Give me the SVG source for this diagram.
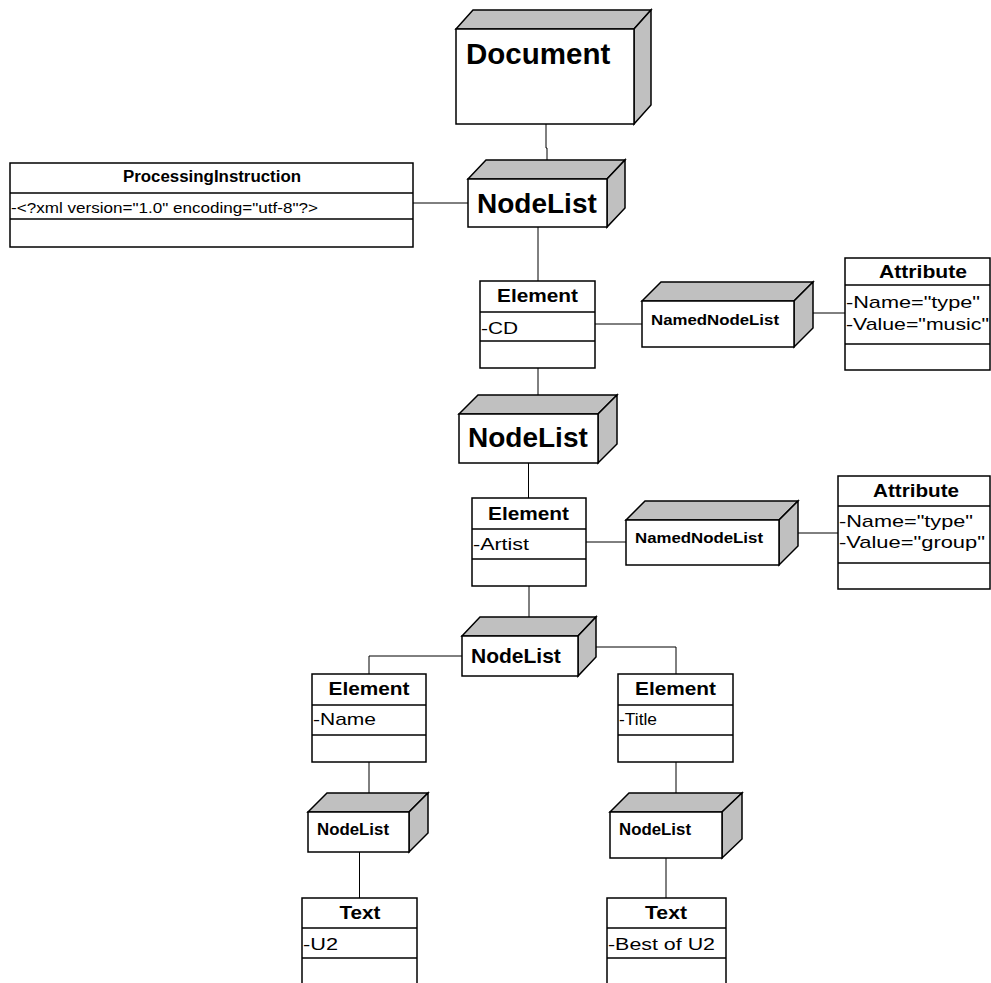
<svg xmlns="http://www.w3.org/2000/svg" width="991" height="983" viewBox="0 0 991 983">
<style>
.face{fill:#c0c0c0;stroke:#000;stroke-width:1.5;stroke-linejoin:miter}
.front{fill:#fff;stroke:#000;stroke-width:1.5}
.box{fill:#fff;stroke:#000;stroke-width:1.5}
.div{stroke:#000;stroke-width:1.5}
.conn{fill:none;stroke:#000;stroke-width:1}
.t{font-family:"Liberation Sans",Arial,sans-serif;fill:#000}
.b{font-weight:bold}
.ttl{font-family:"Liberation Sans",Arial,sans-serif;font-weight:bold;font-size:18.5px;text-anchor:middle}
.row{font-family:"Liberation Sans",Arial,sans-serif;font-size:17px}
</style>
<rect width="991" height="983" fill="#fff"/>
<g id="connectors">
<polyline class="conn" points="546,124 546,148 547,148 547,160"/>
<line class="conn" x1="413" y1="203" x2="468" y2="203"/>
<line class="conn" x1="538" y1="227" x2="538" y2="281"/>
<line class="conn" x1="595" y1="324" x2="642" y2="324"/>
<line class="conn" x1="803" y1="313" x2="845" y2="313"/>
<line class="conn" x1="538" y1="368" x2="538" y2="405"/>
<line class="conn" x1="528.5" y1="463" x2="528.5" y2="498"/>
<line class="conn" x1="586" y1="542" x2="626" y2="542"/>
<line class="conn" x1="788" y1="533" x2="838" y2="533"/>
<line class="conn" x1="529" y1="586" x2="529" y2="626"/>
<polyline class="conn" points="462,656 369,656 369,674"/>
<polyline class="conn" points="586,647 676,647 676,674"/>
<line class="conn" x1="369" y1="762" x2="369" y2="803"/>
<line class="conn" x1="676" y1="762" x2="676" y2="803"/>
<line class="conn" x1="359.5" y1="852" x2="359.5" y2="898"/>
<line class="conn" x1="666" y1="858" x2="666" y2="898"/>
</g>
<g id="document">
<path class="face" d="M456,29 L473,10 L651,10 L634,29 Z"/>
<path class="face" d="M634,29 L651,10 L651,105 L634,124 Z"/>
<rect class="front" x="456" y="29" width="178" height="95"/>
<text class="t b" x="466" y="64" font-size="29.5">Document</text>
</g>
<g id="processing-instruction">
<rect class="box" x="10" y="163" width="403" height="84"/>
<line class="div" x1="10" y1="193" x2="413" y2="193"/>
<line class="div" x1="10" y1="219" x2="413" y2="219"/>
<text class="t b" x="212" y="182" font-size="16" text-anchor="middle" textLength="178" lengthAdjust="spacingAndGlyphs">ProcessingInstruction</text>
<text class="t" x="11" y="213" font-size="15" textLength="307" lengthAdjust="spacingAndGlyphs">-&lt;?xml version="1.0" encoding="utf-8"?&gt;</text>
</g>
<g id="nodelist-1">
<path class="face" d="M468,179 L486,160 L625,160 L607,179 Z"/>
<path class="face" d="M607,179 L625,160 L625,208 L607,227 Z"/>
<rect class="front" x="468" y="179" width="139" height="48"/>
<text class="t b" x="477" y="213" font-size="28">NodeList</text>
</g>
<g id="element-cd">
<rect class="box" x="480" y="281" width="115" height="87"/>
<line class="div" x1="480" y1="312" x2="595" y2="312"/>
<line class="div" x1="480" y1="341" x2="595" y2="341"/>
<text class="ttl" x="537.5" y="302" textLength="81" lengthAdjust="spacingAndGlyphs">Element</text>
<text class="row" x="481" y="334" textLength="37" lengthAdjust="spacingAndGlyphs">-CD</text>
</g>
<g id="namednodelist-1">
<path class="face" d="M642,301 L661,282 L813,282 L794,301 Z"/>
<path class="face" d="M794,301 L813,282 L813,328 L794,347 Z"/>
<rect class="front" x="642" y="301" width="152" height="46"/>
<text class="t b" x="651" y="325" font-size="15.5" textLength="128" lengthAdjust="spacingAndGlyphs">NamedNodeList</text>
</g>
<g id="attribute-1">
<rect class="box" x="845" y="258" width="145" height="112"/>
<line class="div" x1="845" y1="285" x2="990" y2="285"/>
<line class="div" x1="845" y1="344" x2="990" y2="344"/>
<text class="ttl" x="923" y="278" textLength="88" lengthAdjust="spacingAndGlyphs">Attribute</text>
<text class="row" x="846" y="308" textLength="134" lengthAdjust="spacingAndGlyphs">-Name="type"</text>
<text class="row" x="846" y="330" textLength="143" lengthAdjust="spacingAndGlyphs">-Value="music"</text>
</g>
<g id="nodelist-2">
<path class="face" d="M459,414 L478,395 L617,395 L598,414 Z"/>
<path class="face" d="M598,414 L617,395 L617,444 L598,463 Z"/>
<rect class="front" x="459" y="414" width="139" height="49"/>
<text class="t b" x="468" y="447" font-size="28">NodeList</text>
</g>
<g id="element-artist">
<rect class="box" x="472" y="498" width="114" height="88"/>
<line class="div" x1="472" y1="529" x2="586" y2="529"/>
<line class="div" x1="472" y1="559" x2="586" y2="559"/>
<text class="ttl" x="528.5" y="520" textLength="81" lengthAdjust="spacingAndGlyphs">Element</text>
<text class="row" x="473" y="550" textLength="56" lengthAdjust="spacingAndGlyphs">-Artist</text>
</g>
<g id="namednodelist-2">
<path class="face" d="M626,520 L645,501 L798,501 L779,520 Z"/>
<path class="face" d="M779,520 L798,501 L798,546 L779,565 Z"/>
<rect class="front" x="626" y="520" width="153" height="45"/>
<text class="t b" x="635" y="543" font-size="15.5" textLength="128" lengthAdjust="spacingAndGlyphs">NamedNodeList</text>
</g>
<g id="attribute-2">
<rect class="box" x="838" y="476" width="152" height="113"/>
<line class="div" x1="838" y1="506" x2="990" y2="506"/>
<line class="div" x1="838" y1="563" x2="990" y2="563"/>
<text class="ttl" x="916" y="497" textLength="86" lengthAdjust="spacingAndGlyphs">Attribute</text>
<text class="row" x="839" y="527" textLength="134" lengthAdjust="spacingAndGlyphs">-Name="type"</text>
<text class="row" x="839" y="548" textLength="146" lengthAdjust="spacingAndGlyphs">-Value="group"</text>
</g>
<g id="nodelist-3">
<path class="face" d="M462,636 L480,617 L596,617 L578,636 Z"/>
<path class="face" d="M578,636 L596,617 L596,657 L578,676 Z"/>
<rect class="front" x="462" y="636" width="116" height="40"/>
<text class="t b" x="471" y="663" font-size="21">NodeList</text>
</g>
<g id="element-name">
<rect class="box" x="312" y="674" width="114" height="88"/>
<line class="div" x1="312" y1="705" x2="426" y2="705"/>
<line class="div" x1="312" y1="735" x2="426" y2="735"/>
<text class="ttl" x="369" y="695" textLength="81" lengthAdjust="spacingAndGlyphs">Element</text>
<text class="row" x="313" y="725" textLength="63" lengthAdjust="spacingAndGlyphs">-Name</text>
</g>
<g id="element-title">
<rect class="box" x="618" y="674" width="115" height="88"/>
<line class="div" x1="618" y1="705" x2="733" y2="705"/>
<line class="div" x1="618" y1="735" x2="733" y2="735"/>
<text class="ttl" x="675.5" y="695" textLength="81" lengthAdjust="spacingAndGlyphs">Element</text>
<text class="row" x="619" y="725" textLength="38" lengthAdjust="spacingAndGlyphs">-Title</text>
</g>
<g id="nodelist-4">
<path class="face" d="M308,812 L327,793 L428,793 L409,812 Z"/>
<path class="face" d="M409,812 L428,793 L428,833 L409,852 Z"/>
<rect class="front" x="308" y="812" width="101" height="40"/>
<text class="t b" x="317" y="835" font-size="16.5" textLength="72" lengthAdjust="spacingAndGlyphs">NodeList</text>
</g>
<g id="nodelist-5">
<path class="face" d="M610,812 L629,793 L742,793 L722,812 Z"/>
<path class="face" d="M722,812 L742,793 L742,839 L722,858 Z"/>
<rect class="front" x="610" y="812" width="112" height="46"/>
<text class="t b" x="619" y="835" font-size="16.5" textLength="72" lengthAdjust="spacingAndGlyphs">NodeList</text>
</g>
<g id="text-u2">
<rect class="box" x="302" y="898" width="115" height="97"/>
<line class="div" x1="302" y1="928" x2="417" y2="928"/>
<line class="div" x1="302" y1="958" x2="417" y2="958"/>
<text class="ttl" x="360" y="919" textLength="41" lengthAdjust="spacingAndGlyphs">Text</text>
<text class="row" x="303" y="950" textLength="35" lengthAdjust="spacingAndGlyphs">-U2</text>
</g>
<g id="text-best-of-u2">
<rect class="box" x="607" y="898" width="119" height="97"/>
<line class="div" x1="607" y1="928" x2="726" y2="928"/>
<line class="div" x1="607" y1="958" x2="726" y2="958"/>
<text class="ttl" x="666" y="919" textLength="42" lengthAdjust="spacingAndGlyphs">Text</text>
<text class="row" x="608" y="950" textLength="107" lengthAdjust="spacingAndGlyphs">-Best of U2</text>
</g>
</svg>
